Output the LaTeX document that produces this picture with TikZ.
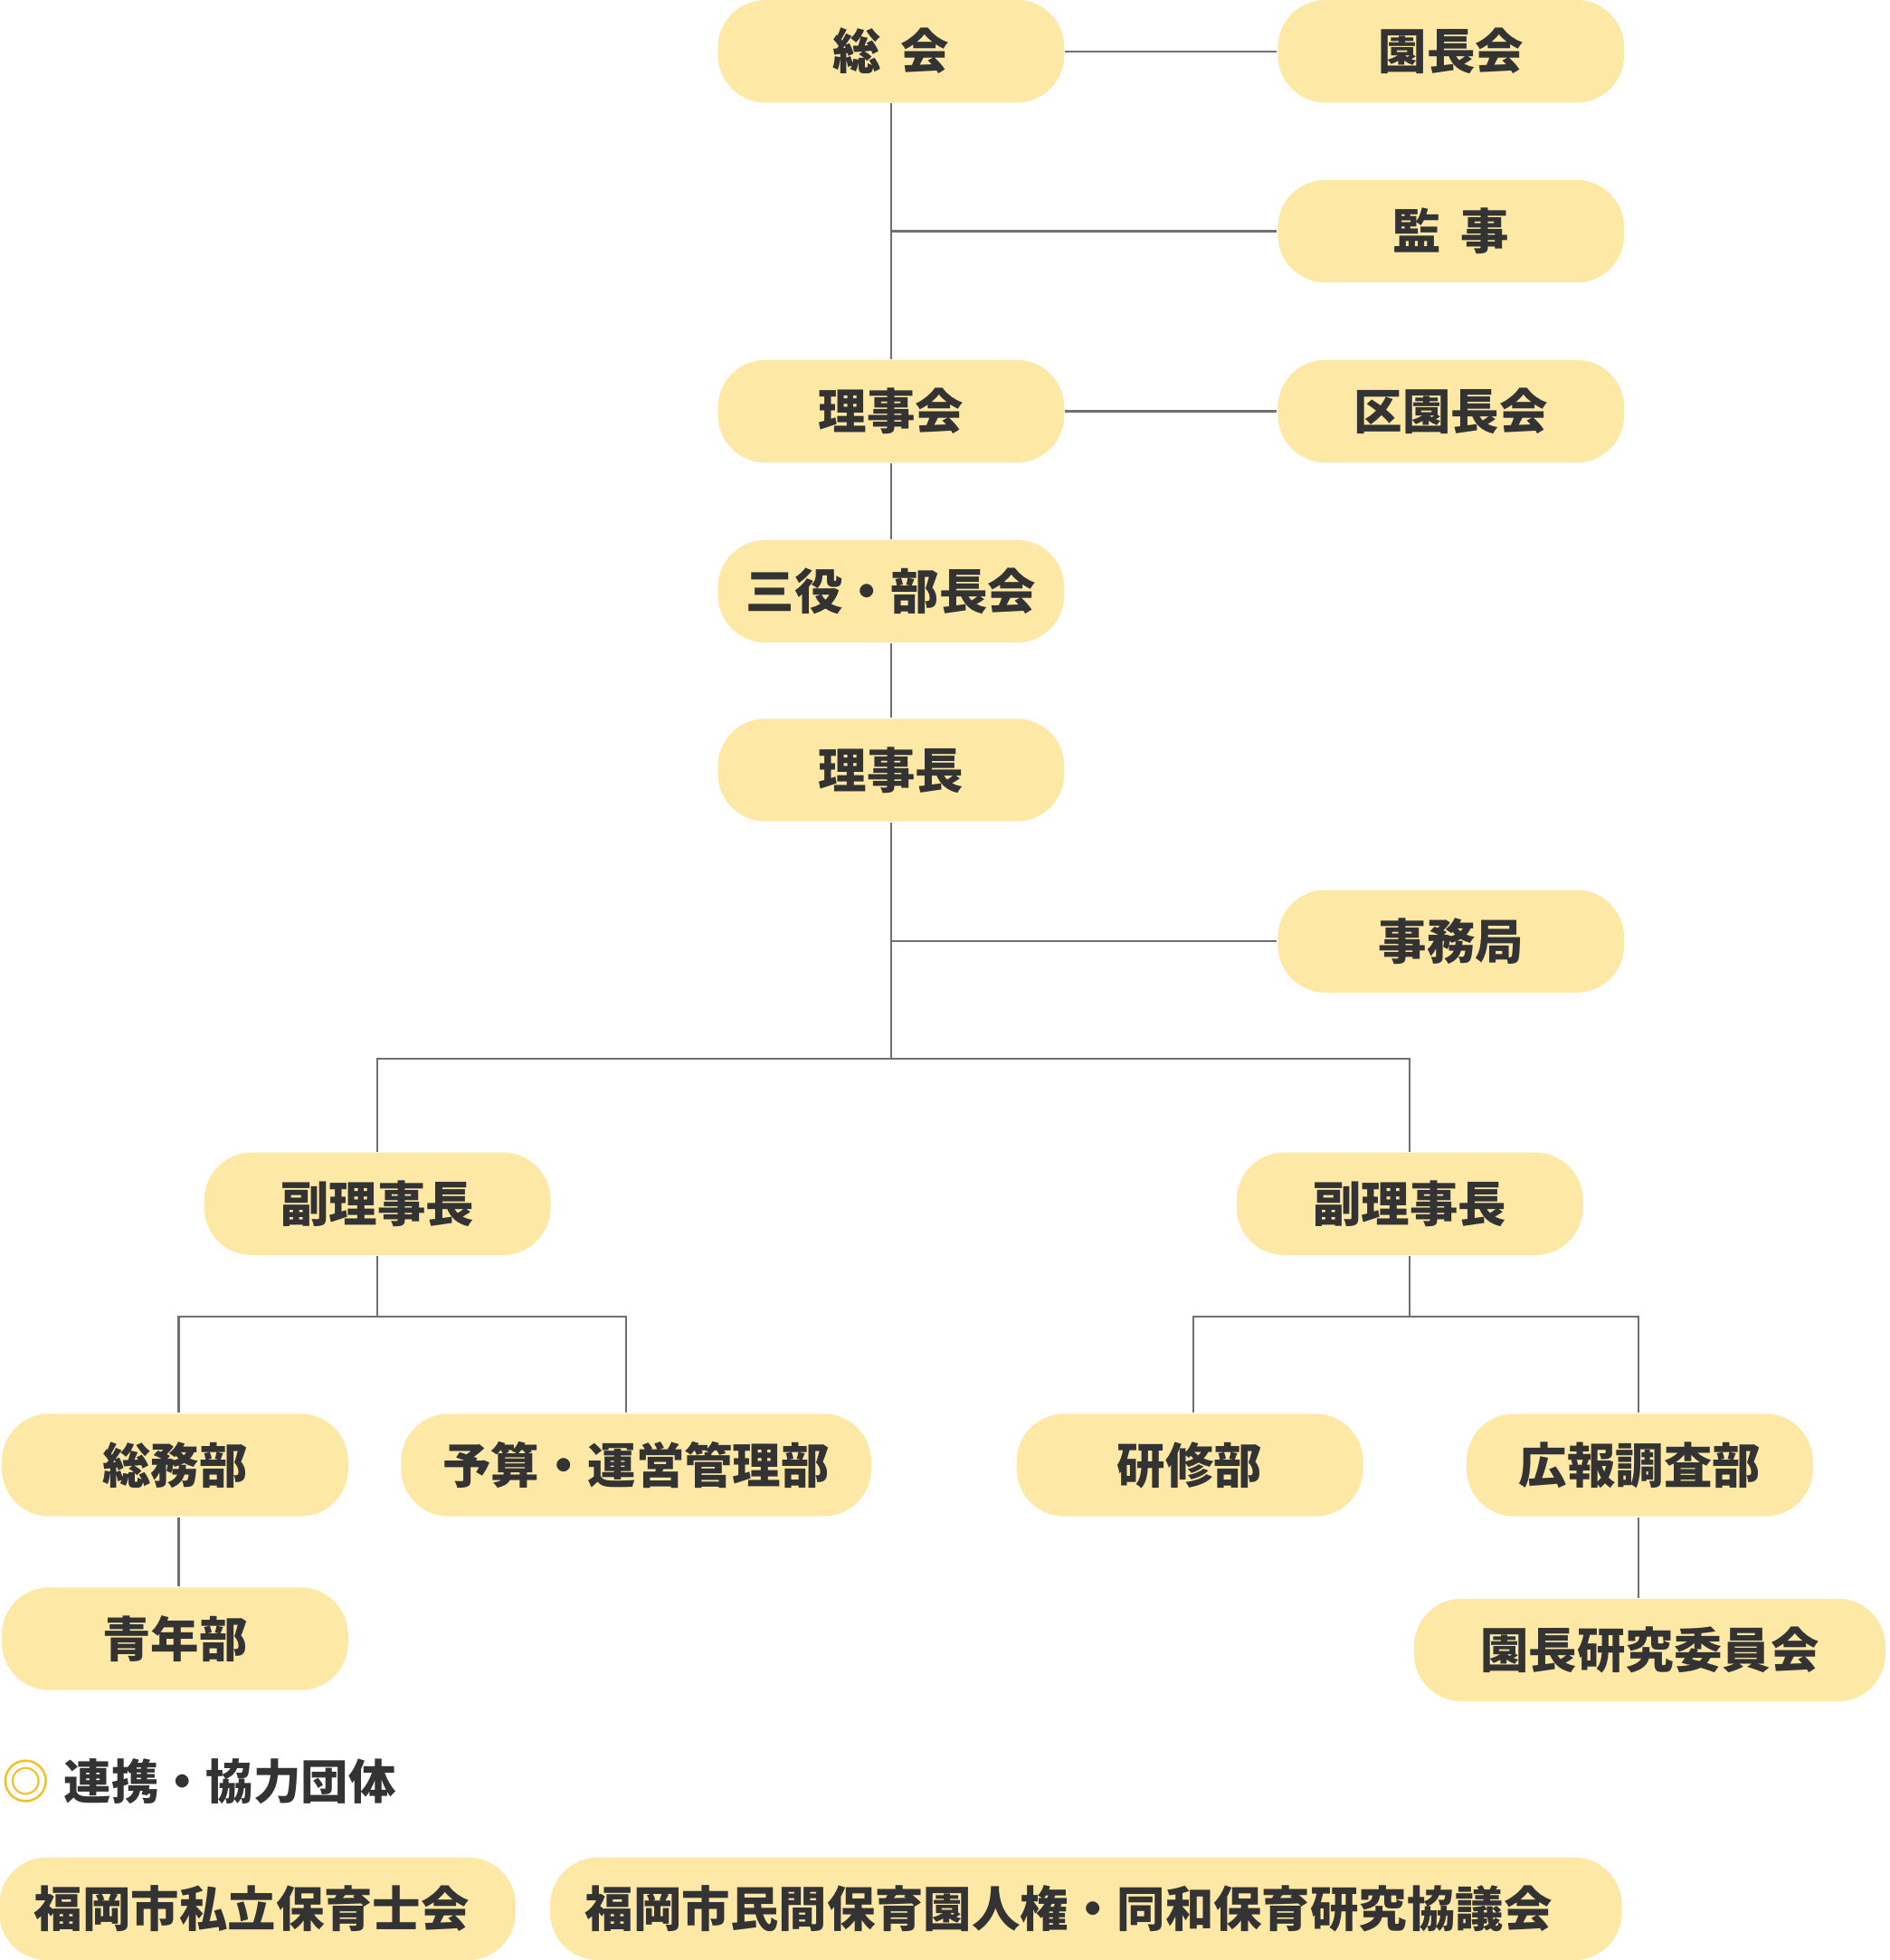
\documentclass[tikz,border=0pt]{standalone}
\usepackage{fontspec}
\setmainfont{Noto Sans CJK JP}
\usepackage{tikz}
\usetikzlibrary{positioning, calc}

\definecolor{boxfill}{HTML}{FDE8A6}
\definecolor{inkgray}{HTML}{333333}
\definecolor{linegray}{HTML}{707070}
\definecolor{markyellow}{HTML}{F5BE18}

\begin{document}
\begin{tikzpicture}[x=0.01cm, y=-0.01cm,
            font=\fontsize{11pt}{13pt}\selectfont\bfseries,
            unit/.style={fill=boxfill, text=inkgray, rounded corners=0.38cm,
                         minimum width=2.77cm, minimum height=0.82cm, inner sep=0pt},
            wideunit/.style={unit, minimum width=#1},
            partnerunit/.style={unit, inner xsep=0.28cm, text width=#1, align=left},
            link/.style={draw=linegray, line width=0.45pt}]

            \useasboundingbox (0,0) rectangle (1512,1568);

            % upper chain
            \node[unit] (sokai)   at (713,41)  {総\hspace{0.4em}会};
            \node[unit] (encho)   at (1161,41) {園長会};
            \node[unit] (kanji)   at (1161,185) {監\hspace{0.4em}事};
            \node[unit] (rijikai) at (713,329) {理事会};
            \node[unit] (kuencho) at (1161,329) {区園長会};
            \node[unit] (sanyaku) at (713,473) {三役・部長会};
            \node[unit] (rijicho) at (713,616) {理事長};
            \node[unit] (jimu)    at (1161,753) {事務局};

            % vice chairs
            \node[unit] (fukuL) at (302,963)  {副理事長};
            \node[unit] (fukuR) at (1128,963) {副理事長};

            % departments
            \node[unit]             (somu)   at (140,1172)  {総務部};
            \node[wideunit=3.76cm]  (yosan)  at (509,1172)  {予算・運営管理部};
            \node[unit]             (kenshu) at (952,1172)  {研修部};
            \node[unit]             (koho)   at (1312,1172) {広報調査部};
            \node[unit]             (seinen) at (140,1311)  {青年部};
            \node[wideunit=3.77cm]  (iinkai) at (1320,1320) {園長研究委員会};

            % partner groups
            \node[anchor=west, text=inkgray, inner sep=0pt,
                  font=\fontsize{10.8pt}{13pt}\selectfont\bfseries] (partners) at (1,1425)
                {{\color{markyellow}◎}\hspace{0.3em}連携・協力団体};
            \node[partnerunit=3.57cm] (hoikushi) at (206,1527) {福岡市私立保育士会};
            \node[partnerunit=8.01cm] (jinken)   at (869,1527) {福岡市民間保育園人権・同和保育研究協議会};

            % junction points
            \coordinate (topbar) at (713,847);
            \coordinate (leftbar) at (302,1053);
            \coordinate (rightbar) at (1128,1053);

            % connectors
            \draw[link] (sokai) -- (encho);
            \draw[link] (sokai) -- (rijikai);
            \draw[link] (sokai |- kanji) -- (kanji);
            \draw[link] (rijikai) -- (kuencho);
            \draw[link] (rijikai) -- (sanyaku);
            \draw[link] (sanyaku) -- (rijicho);
            \draw[link] (rijicho) -- (topbar);
            \draw[link] (rijicho |- jimu) -- (jimu);
            \draw[link] (fukuL) |- (topbar) -| (fukuR);

            \draw[link] (fukuL) -- (leftbar);
            \draw[link] ([xshift=0.03cm]somu.north) |- (leftbar) -| ([xshift=-0.08cm]yosan.north);
            \draw[link] ([xshift=0.03cm]somu.south) -- ([xshift=0.03cm]seinen.north);

            \draw[link] (fukuR) -- (rightbar);
            \draw[link] ([xshift=0.03cm]kenshu.north) |- (rightbar) -| ([xshift=-0.01cm]koho.north);
            \draw[link] ([xshift=-0.01cm]koho.south) -- ([xshift=-0.01cm]koho.south |- iinkai.north);
        \end{tikzpicture}
\end{document}
